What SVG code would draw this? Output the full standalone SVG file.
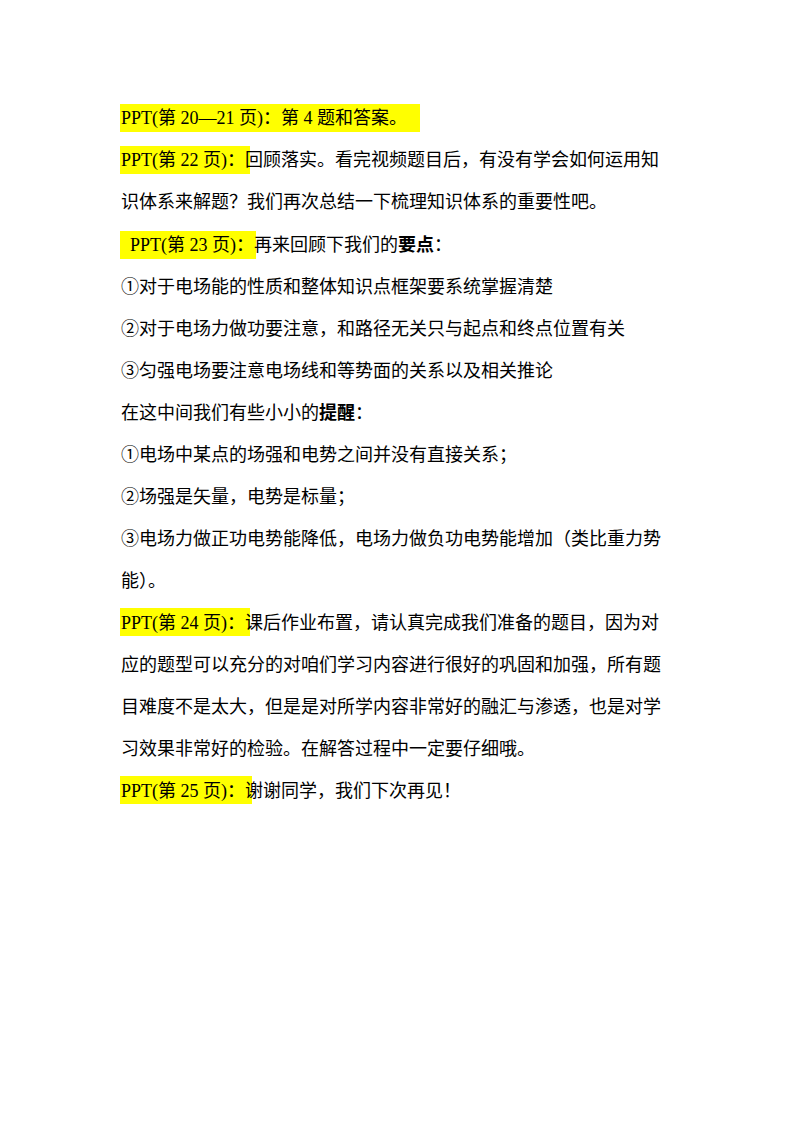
<svg xmlns="http://www.w3.org/2000/svg" width="800" height="1132" viewBox="0 0 800 1132">
<style>
text{font-family:"Liberation Serif","Noto Sans CJK SC",serif;font-size:18px;fill:#000}
.hl{fill:#ffff00}
.b{font-weight:bold}
</style>
<rect width="800" height="1132" fill="#fff"/>
<rect class="hl" x="120" y="104" width="300" height="28"/>
<rect class="hl" x="120" y="146" width="130" height="28"/>
<rect class="hl" x="120" y="231" width="136" height="28"/>
<rect class="hl" x="120" y="608" width="130" height="28"/>
<rect class="hl" x="120" y="776" width="132" height="28"/>
<text x="121" y="124">PPT(第 20—21 页)：第 4 题和答案。</text>
<text x="121" y="166">PPT(第 22 页)：回顾落实。看完视频题目后，有没有学会如何运用知</text>
<text x="121" y="208">识体系来解题？我们再次总结一下梳理知识体系的重要性吧。</text>
<text x="121" y="251"> <tspan x="130">PPT(第 23 页)：再来回顾下我们的</tspan><tspan class="b">要点</tspan>：</text>
<text x="121" y="293">①对于电场能的性质和整体知识点框架要系统掌握清楚</text>
<text x="121" y="335">②对于电场力做功要注意，和路径无关只与起点和终点位置有关</text>
<text x="121" y="377">③匀强电场要注意电场线和等势面的关系以及相关推论</text>
<text x="121" y="419">在这中间我们有些小小的<tspan class="b">提醒</tspan>：</text>
<text x="121" y="461">①电场中某点的场强和电势之间并没有直接关系；</text>
<text x="121" y="503">②场强是矢量，电势是标量；</text>
<text x="121" y="545">③电场力做正功电势能降低，电场力做负功电势能增加（类比重力势</text>
<text x="121" y="587">能）。</text>
<text x="121" y="629">PPT(第 24 页)：课后作业布置，请认真完成我们准备的题目，因为对</text>
<text x="121" y="671">应的题型可以充分的对咱们学习内容进行很好的巩固和加强，所有题</text>
<text x="121" y="713">目难度不是太大，但是是对所学内容非常好的融汇与渗透，也是对学</text>
<text x="121" y="755">习效果非常好的检验。在解答过程中一定要仔细哦。</text>
<text x="121" y="797">PPT(第 25 页)：谢谢同学，我们下次再见！</text>
</svg>
